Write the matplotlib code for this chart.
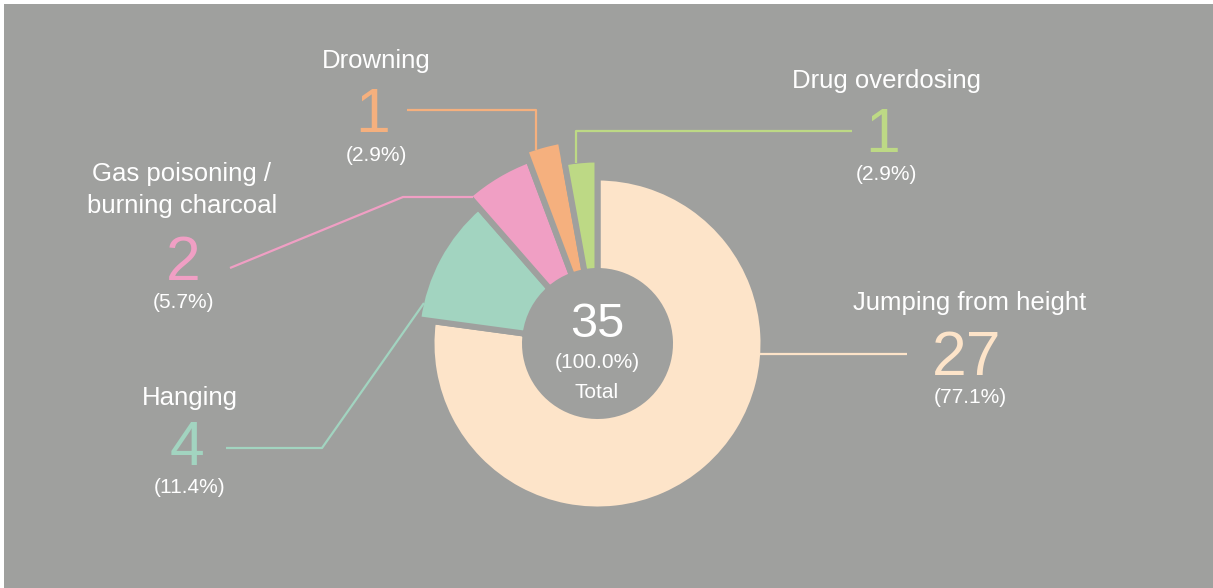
import matplotlib.pyplot as plt
from matplotlib.patches import Rectangle

causes = ["Jumping from height", "Hanging", "Gas poisoning /\nburning charcoal",
          "Drowning", "Drug overdosing"]
counts = [27, 4, 2, 1, 1]
colors = ["#fde4c9", "#a2d4c0", "#f09fc4", "#f5b07e", "#bdd985"]
total = sum(counts)

BG = "#9fa09e"
W, H = 1213, 588

# visible outer radius of each slice (px), the small ones stick out further
outer_r = [163, 178, 193, 203, 181]
inner_r = 75.5
gap = 6  # px of background drawn between slices

# label layout in image pixels (y measured from the top), name y = last line baseline
layout = {
    "Jumping from height": dict(name=(970, 310), num=(967, 375), pct=(970, 403),
                                line=[(760, 354), (907, 354)]),
    "Hanging": dict(name=(190, 405), num=(187, 465), pct=(190, 493),
                    line=[(226, 448), (322, 448), (424, 303)]),
    "Gas poisoning /\nburning charcoal": dict(name=(182, 213), num=(183, 280), pct=(183, 308),
                                              line=[(230, 268), (403, 197), (473, 197)]),
    "Drowning": dict(name=(376, 68), num=(373, 132), pct=(376, 161),
                     line=[(407, 110), (536, 110), (536, 150)]),
    "Drug overdosing": dict(name=(886, 88), num=(883, 152), pct=(886, 180),
                            line=[(852, 131), (576, 131), (576, 163)]),
}

SANS = ["Liberation Sans", "DejaVu Sans"]
NAME_FONT = dict(family=SANS, fontsize=18.5, color="white")
PCT_FONT = dict(family=SANS, fontsize=15, color="white")
NUM_FONT = dict(family=SANS, fontsize=45)


def main():
    fig = plt.figure(figsize=(W / 100, H / 100), dpi=100, facecolor="white")
    ax = fig.add_axes([0, 0, 1, 1])

    cx, cy = 597.5, 343.5
    lw_pt = gap * 72 / 100
    # y axis is inverted below, so start at -90 and go "counterclockwise" in data
    # space, which reads clockwise from the top on screen
    wedges, _ = ax.pie(counts, colors=colors, startangle=-90, counterclock=True,
                       center=(cx, cy), radius=170,
                       wedgeprops=dict(width=90, edgecolor=BG, linewidth=lw_pt))
    for wedge, r in zip(wedges, outer_r):
        wedge.set_radius(r + gap / 2)
        wedge.set_width(r + gap / 2 - (inner_r - gap / 2))
        wedge.set_zorder(2)

    ax.add_patch(Rectangle((4, 4), W - 4, H - 4, facecolor=BG, edgecolor="none", zorder=0))

    for cause, count, color in zip(causes, counts, colors):
        lay = layout[cause]
        xs, ys = zip(*lay["line"])
        ax.plot(xs, ys, color=color, lw=1.6, solid_capstyle="butt", zorder=3)

        lines = cause.split("\n")
        nx, ny = lay["name"]
        for i, text in enumerate(reversed(lines)):
            ax.text(nx, ny - i * 31.5, text, ha="center", va="baseline", **NAME_FONT)
        ax.text(*lay["num"], str(count), ha="center", va="baseline", color=color, **NUM_FONT)
        ax.text(*lay["pct"], f"({count / total * 100:.1f}%)", ha="center", va="baseline",
                **PCT_FONT)

    # centre total
    ax.text(597, 337, str(total), ha="center", va="baseline", color="white",
            family=SANS, fontsize=35)
    ax.text(597, 368, "(100.0%)", ha="center", va="baseline", **PCT_FONT)
    ax.text(597, 398, "Total", ha="center", va="baseline", **PCT_FONT)

    ax.set_xlim(0, W)
    ax.set_ylim(H, 0)
    ax.set_axis_off()
    plt.savefig("out.png", dpi=100, facecolor="white")
    plt.close()


if __name__ == "__main__":
    main()
